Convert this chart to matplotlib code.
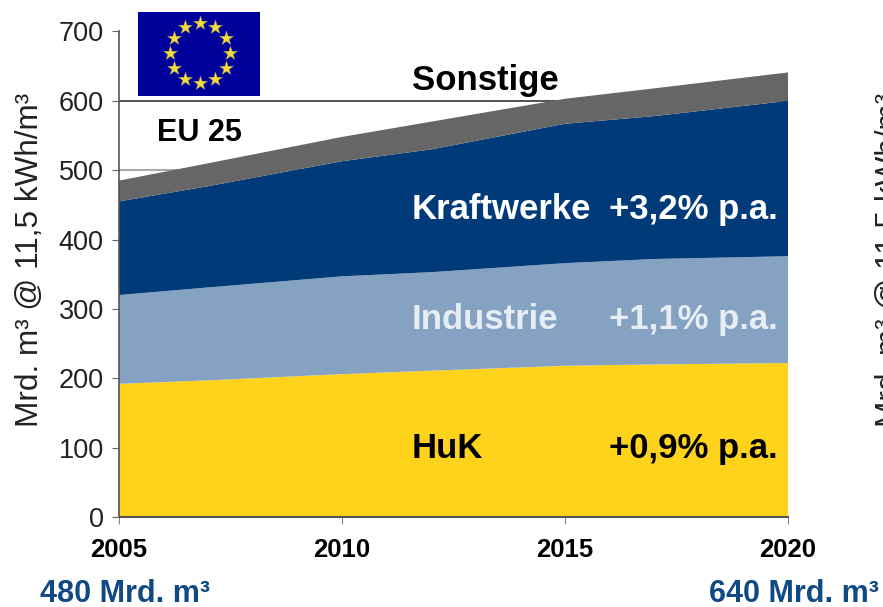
import numpy as np
import matplotlib
matplotlib.use("Agg")
import matplotlib.pyplot as plt

plt.rcParams['font.family'] = ['Liberation Sans', 'DejaVu Sans']

years = [2005, 2007, 2010, 2012, 2015, 2017, 2020]
huk = [192, 197, 206, 211, 218, 220, 222]
industrie = [128, 134, 141, 142, 148, 152, 154]
kraftwerke = [135, 146, 166, 177, 201, 206, 224]
sonstige = [30, 33, 35, 40, 36, 40, 41]
colors = ["#ffd21c", "#86a2c2", "#003a78", "#666666"]

y_ticks = [0, 100, 200, 300, 400, 500, 600, 700]
x_ticks = [2005, 2010, 2015, 2020]
y_label = "Mrd. m³ @ 11,5 kWh/m³"

W, H = 883, 607
fig = plt.figure(figsize=(W / 100, H / 100), dpi=100)
# plot area in pixels: x 119-788, y 31.5-517
ax = fig.add_axes([119 / W, 1 - 517 / H, (788 - 119) / W, (517 - 31.5) / H])

ax.hlines([700, 500], 2005, 2020, color="#aaaaaa", lw=1.5, zorder=1)
ax.hlines(600, 2005, 2020, color="#333333", lw=1.2, zorder=1)
ax.stackplot(years, huk, industrie, kraftwerke, sonstige, colors=colors, zorder=2)

ax.set_xlim(2005, 2020)
ax.set_ylim(0, 700)
ax.set_xticks(x_ticks)
ax.set_yticks(y_ticks)
ax.spines["top"].set_visible(False)
ax.spines["right"].set_visible(False)
ax.spines["left"].set_color("#555555")
ax.spines["bottom"].set_color("#555555")
ax.spines["left"].set_linewidth(1.2)
ax.spines["bottom"].set_linewidth(1.5)
ax.tick_params(axis="y", labelsize=19.5, length=5, color="#666666", pad=6, labelcolor="#222222")
ax.tick_params(axis="x", labelsize=18.5, length=5, color="#888888", pad=10)
for lab in ax.get_xticklabels():
    lab.set_fontweight("bold")
ax.set_ylabel(y_label, fontsize=22.7, color="#222222")
ax.yaxis.set_label_coords((45 - 119) / (788 - 119), 0.529)

# labels inside the areas
lab = dict(fontsize=25, fontweight="bold", va="center", ha="left")
ax.text(2011.57, 630, "Sonstige", color="black", **lab)
ax.text(2011.57, 443, "Kraftwerke", color="white", **lab)
ax.text(2011.57, 285, "Industrie", color="#e6edf5", **lab)
ax.text(2011.57, 99, "HuK", color="black", **lab)
ax.text(2019.76, 443, "+3,2% p.a.", color="white", **{**lab, "ha": "right"})
ax.text(2019.76, 285, "+1,1% p.a.", color="#e6edf5", **{**lab, "ha": "right"})
ax.text(2019.76, 99, "+0,9% p.a.", color="black", **{**lab, "ha": "right"})
ax.text(2005.85, 553, "EU 25", color="black", fontsize=22, fontweight="bold", va="center")

# totals below the axis
fig.text(40 / W, 1 - 602 / H, "480 Mrd. m³", color="#0f4a85", fontsize=22, fontweight="bold", va="baseline")
fig.text(709 / W, 1 - 602 / H, "640 Mrd. m³", color="#0f4a85", fontsize=22, fontweight="bold", va="baseline")

# start of the next panel's axis label, cut off at the right edge
fig.text(875 / W, 1 - 260 / H, y_label, color="#222222", fontsize=22.7,
         rotation=90, ha="left", va="center")

# flag
flag = fig.add_axes([138 / W, 1 - 96 / H, 122 / W, 84 / H], zorder=5)
flag.set_facecolor("#00009a")
flag.set_xlim(-61, 61)
flag.set_ylim(-42, 42)
flag.set_xticks([])
flag.set_yticks([])
for s in flag.spines.values():
    s.set_visible(False)
angles = np.arange(12) * np.pi / 6
flag.scatter(30 * np.sin(angles) + 1, 30 * np.cos(angles) + 1, marker="*", s=110, color="#f2dc3a",
             edgecolor="#b09a60", linewidth=0.3)

fig.savefig("out.png", dpi=100)
